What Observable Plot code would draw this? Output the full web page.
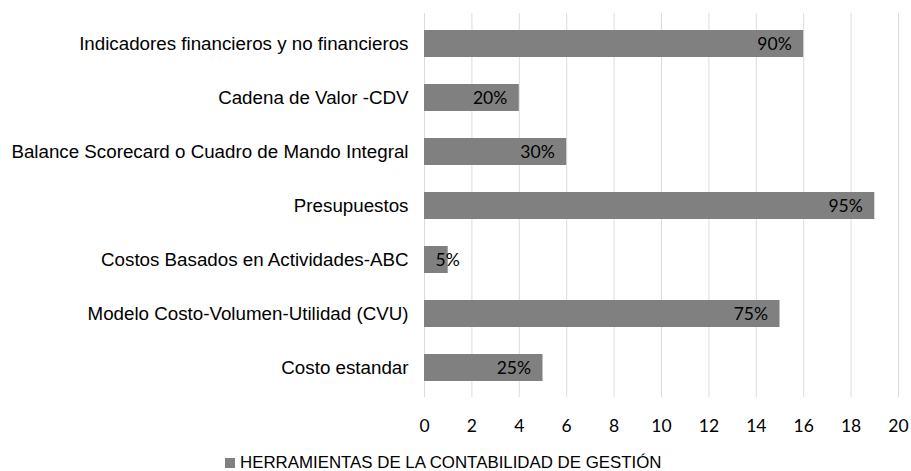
<!DOCTYPE html>
<html><head><meta charset="utf-8">
<script src="https://cdn.jsdelivr.net/npm/d3@7"></script>
<script src="https://cdn.jsdelivr.net/npm/@observablehq/plot@0.6"></script>
<style>
body{margin:0;background:#fff;width:911px;height:471px;overflow:hidden;position:relative;}
#legend{position:absolute;left:225px;top:451px;height:24px;display:flex;align-items:center;font-family:"Liberation Sans",Arial,sans-serif;font-size:16.85px;color:#000;white-space:nowrap;}
#legend .sw{width:10px;height:10px;background:#808080;margin-right:5px;}
</style>
</head><body><div id="chart"></div><div id="legend"><span class="sw"></span><span id="legtext"></span></div>
<script>
const categories = [
  "Indicadores financieros y no financieros",
  "Cadena de Valor -CDV",
  "Balance Scorecard o Cuadro de Mando Integral",
  "Presupuestos",
  "Costos Basados en Actividades-ABC",
  "Modelo Costo-Volumen-Utilidad (CVU)",
  "Costo estandar"
];
const values = [16, 4, 6, 19, 1, 15, 5];
const barLabels = ["90%", "20%", "30%", "95%", "5%", "75%", "25%"];
const xTicks = [0, 2, 4, 6, 8, 10, 12, 14, 16, 18, 20];
const seriesName = "HERRAMIENTAS DE LA CONTABILIDAD DE GESTIÓN";

const data = categories.map((c, i) => ({category: c, value: values[i], label: barLabels[i]}));
const wide = data.filter(d => d.value >= 2);
const narrow = data.filter(d => d.value < 2);

const labelStyle = {fill: "#000", fontSize: 17.5, fontFamily: "Lato"};

const plot = Plot.plot({
  width: 911,
  height: 445,
  marginLeft: 424,
  marginRight: 13,
  marginTop: 13,
  marginBottom: 48,
  style: {background: "#fff", overflow: "visible"},
  x: {domain: [0, 20]},
  y: {domain: categories, paddingInner: 0.5, paddingOuter: 0.25},
  marks: [
    Plot.gridX(xTicks, {stroke: "#d9dce1", strokeOpacity: 1, strokeWidth: 1}),
    Plot.barX(data, {x: "value", y: "category", fill: "#808080"}),
    Plot.text(wide, {x: "value", y: "category", text: "label", textAnchor: "end", dx: -12, ...labelStyle}),
    Plot.text(narrow, {x: () => 0, y: "category", text: "label", textAnchor: "start", dx: 11, ...labelStyle}),
    Plot.axisX({ticks: xTicks, tickSize: 0, tickPadding: 22, fontSize: 17.5, fontFamily: "Lato", label: null}),
    Plot.axisY({tickSize: 0, tickPadding: 16, fontSize: 18.75, fontFamily: "Liberation Sans", label: null})
  ]
});
document.getElementById("chart").appendChild(plot);
document.getElementById("legtext").textContent = seriesName;
</script>
</body></html>
